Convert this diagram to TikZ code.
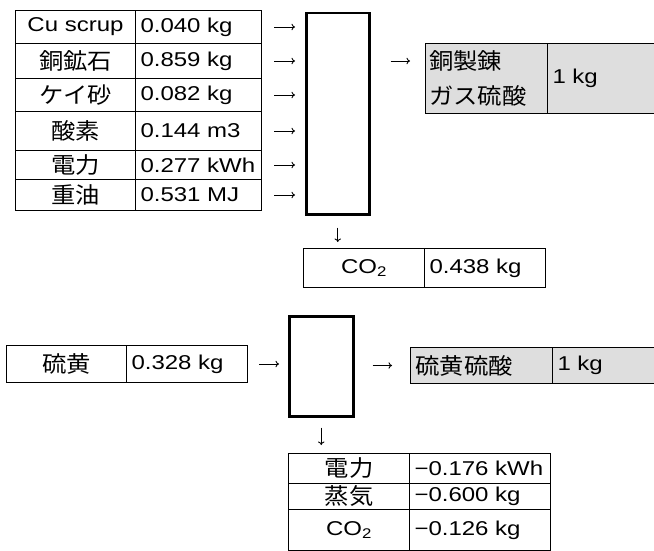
\documentclass[tikz,border=0pt]{standalone}
\usepackage{fontspec}
\setmainfont{Liberation Sans}[FakeStretch=1.2]
\newfontfamily\cjk{Noto Sans CJK JP}[FakeStretch=1.08]
\usetikzlibrary{arrows.meta,calc}
\newcommand\J[1]{{\cjk\fontsize{22.5}{36}\selectfont #1}}
\begin{document}
\begin{tikzpicture}[x=1pt,y=-1pt,
  every node/.style={font=\fontsize{20}{24}\selectfont},
  lc/.style={draw, line width=1pt, inner sep=0pt, anchor=north west, align=center},
  rc/.style={draw, line width=1pt, inner xsep=5pt, inner ysep=0pt, anchor=north west, align=left},
  proc/.style={draw, line width=2.5pt, inner sep=0pt, anchor=north west},
  shade/.style={fill=black!13},
  arr/.style={line width=0.9pt, -{To[length=3.5pt,width=6.5pt]}}
]
\useasboundingbox (0,0) rectangle (654,551);
\clip (0,0) rectangle (654,551);
% ---------- top inputs ----------
\node[lc, minimum width=120pt, minimum height=33pt] (k1) at (15,10) {Cu scrup};
\node[rc, text width=116pt, minimum height=33pt] (v1) at (135,10) {0.040 kg};
\node[lc, minimum width=120pt, minimum height=35pt] (k2) at (15,43) {\J{銅鉱石}};
\node[rc, text width=116pt, minimum height=35pt] (v2) at (135,43) {0.859 kg};
\node[lc, minimum width=120pt, minimum height=33pt] (k3) at (15,78) {\J{ケイ砂}};
\node[rc, text width=116pt, minimum height=33pt] (v3) at (135,78) {0.082 kg};
\node[lc, minimum width=120pt, minimum height=39pt] (k4) at (15,111) {\J{酸素}};
\node[rc, text width=116pt, minimum height=39pt] (v4) at (135,111) {0.144 m3};
\node[lc, minimum width=120pt, minimum height=29pt] (k5) at (15,150) {\J{電力}};
\node[rc, text width=116pt, minimum height=29pt] (v5) at (135,150) {0.277 kWh};
\node[lc, minimum width=120pt, minimum height=31pt] (k6) at (15,179) {\J{重油}};
\node[rc, text width=116pt, minimum height=31pt] (v6) at (135,179) {0.531 MJ};
% process 1
\node[proc, minimum width=63pt, minimum height=201pt] (p1) at (305,12) {};
\foreach \i in {1,...,6}{
  \draw[arr, shorten <=12pt, shorten >=10pt] (v\i.east) -- (v\i.east -| p1.west);
}
% output 1
\node[lc, shade, minimum width=122pt, minimum height=70pt] (o1k) at (425,43) {};
\node[anchor=west, inner sep=0pt, align=left] (o1t) at (429,61) {\J{銅製錬}};
\node[anchor=west, inner sep=0pt, align=left] (o1u) at (429,96) {\J{ガス硫酸}};
\node[rc, shade, text width=120pt, minimum height=70pt] (o1v) at (547,43) {1 kg};
\draw[arr, shorten <=20pt, shorten >=15pt] (p1.east |- o1t) -- (o1k.west |- o1t);
% CO2 1
\node[lc, minimum width=121pt, minimum height=39pt] (c1k) at (303,248) {CO\textsubscript{2}};
\node[rc, text width=111pt, minimum height=39pt] (c1v) at (424,248) {0.438 kg};
\draw[arr, shorten <=12pt, shorten >=6pt] (p1.south) -- (p1.south |- c1k.north);
% ---------- bottom ----------
\node[lc, minimum width=120pt, minimum height=37pt] (s1k) at (6,345) {\J{硫黄}};
\node[rc, text width=111pt, minimum height=37pt] (s1v) at (126,345) {0.328 kg};
\node[proc, minimum width=64pt, minimum height=100pt] (p2) at (288,315) {};
\draw[arr, shorten <=11pt, shorten >=9pt] (s1v.east) -- (s1v.east -| p2.west);
\node[rc, shade, text width=132pt, minimum height=36pt] (o2k) at (410,347) {\J{硫黄硫酸}};
\node[rc, shade, text width=120pt, minimum height=36pt] (o2v) at (552,347) {1 kg};
\draw[arr, shorten <=18pt, shorten >=18pt] (p2.east |- o2k) -- (o2k.west);
% bottom table
\node[lc, minimum width=121pt, minimum height=30pt] (b1k) at (288,453) {\J{電力}};
\node[rc, text width=131pt, minimum height=30pt] (b1v) at (409,453) {−0.176 kWh};
\node[lc, minimum width=121pt, minimum height=26pt] (b2k) at (288,483) {\J{蒸気}};
\node[rc, text width=131pt, minimum height=26pt] (b2v) at (409,483) {−0.600 kg};
\node[lc, minimum width=121pt, minimum height=41pt] (b3k) at (288,509) {CO\textsubscript{2}};
\node[rc, text width=131pt, minimum height=41pt] (b3v) at (409,509) {−0.126 kg};
\draw[arr, shorten <=10pt, shorten >=8pt] (p2.south) -- (p2.south |- b1k.north);
\end{tikzpicture}
\end{document}
